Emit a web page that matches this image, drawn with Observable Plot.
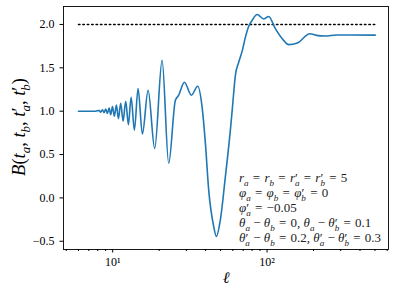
<!DOCTYPE html>
<html>
<head>
<meta charset="utf-8">
<script src="https://cdn.jsdelivr.net/npm/d3@7"></script>
<script src="https://cdn.jsdelivr.net/npm/@observablehq/plot@0.6"></script>
<style>
  html, body { margin: 0; padding: 0; background: #fff; }
  #chart svg { display: block; }
</style>
</head>
<body>
<div id="chart"></div>
<script>
// multipole ℓ (log axis)
const ell = [6.0, 7.73, 8.17, 8.36, 8.58, 8.80, 9.01, 9.24, 9.48, 9.71, 9.96, 10.26, 10.57, 10.89,
  11.27, 11.68, 12.14, 12.64, 13.16, 13.82, 14.60, 15.57, 16.96, 18.71, 20.89, 23.05, 25.47, 26.76,
  29.14, 32.34, 35.53, 37.93, 39.85, 41.86, 45.10, 46.95, 49.83, 53.70, 57.85, 59.61, 62.34, 65.49,
  69.18, 72.34, 75.98, 79.93, 86.13, 95.35, 102.4, 113.2, 128.1, 138.0, 157.1, 189.3, 208.6, 238.6,
  281.1, 346.2, 502.6];
// B(t_a, t_b, t'_a, t'_b)
const Bval = [1.0, 1.0, 1.008, 0.989, 1.017, 0.983, 1.025, 0.974, 1.037, 0.960, 1.054, 0.943, 1.072, 0.914,
  1.092, 0.885, 1.115, 0.845, 1.161, 0.782, 1.261, 0.736, 1.241, 0.571, 1.586, 0.399, 1.126, 1.184,
  1.333, 1.184, 1.287, 1.049, 0.632, 0.092, -0.330, -0.445, -0.253, 0.245, 0.782, 1.034, 1.414, 1.563,
  1.701, 1.851, 1.977, 2.046, 2.115, 2.063, 2.092, 1.951, 1.816, 1.767, 1.785, 1.893, 1.874, 1.866,
  1.879, 1.879, 1.877];
// dotted reference level
const refLevel = 2.0;
const refRange = [6, 500];
// ticks
const yTicks = [-0.5, 0.0, 0.5, 1.0, 1.5, 2.0];
const xMajorTicks = [10, 100];
const xMajorLabels = ["10¹", "10²"];
const xMinorTicks = [5, 6, 7, 8, 9, 20, 30, 40, 50, 60, 70, 80, 90, 200, 300, 400, 500, 600];
// texts
const yLabel = "B(t_a, t_b, t'_a, t'_b)";
const xLabel = "ℓ";
const noteLines = [
  "r_a = r_b = r'_a = r'_b = 5",
  "φ_a = φ_b = φ'_b = 0",
  "φ'_a = -0.05",
  "θ_a - θ_b = 0, θ_a - θ'_b = 0.1",
  "θ'_a - θ_b = 0.2, θ'_a - θ'_b = 0.3"
];

const data = ell.map((x, i) => ({x, y: Bval[i]}));
const refData = refRange.map(x => ({x, y: refLevel}));
const FONT = "'Liberation Serif', 'DejaVu Serif', serif";

const fmtY = d => (d < 0 ? "\u2212" : "") + Math.abs(d).toFixed(1);

const chart = Plot.plot({
  width: 396,
  height: 295,
  marginLeft: 63,
  marginRight: 8,
  marginTop: 6,
  marginBottom: 46,
  style: {fontFamily: FONT, fontSize: "12px", color: "#000", background: "#fff"},
  x: {type: "log", domain: [4.8, 612]},
  y: {domain: [-0.595, 2.207]},
  marks: [
    Plot.axisY({ticks: yTicks, tickSize: 3.5, tickPadding: 5.5, tickFormat: fmtY, label: null}),
    Plot.axisX({ticks: xMinorTicks, tickSize: 2, tickFormat: () => "", label: null}),
    Plot.axisX({ticks: xMajorTicks, tickSize: 3.5, tickPadding: 4.5,
      tickFormat: d => xMajorLabels[xMajorTicks.indexOf(d)], label: null}),
    Plot.line(refData, {x: "x", y: "y", stroke: "#000", strokeWidth: 1.5, strokeDasharray: "1.5,2.9"}),
    Plot.line(data, {x: "x", y: "y", stroke: "#1f77b4", strokeWidth: 1.6, curve: "monotone-x"}),
    Plot.frame({stroke: "#000", strokeWidth: 0.9})
  ]
});
document.getElementById("chart").appendChild(chart);

// math-like text with subscripts and primes
function isLetter(c) { return /[A-Za-zα-ωφθ]/.test(c); }
function mathText(sel, src, size, relPad) {
  sel.style("white-space", "pre");
  let off = 0, pending = 0;
  const add = (t, opts = {}) => {
    const target = opts.sub ? size * 0.28 : 0;
    const ts = sel.append("tspan").text(t);
    if (target !== off) ts.attr("dy", target - off);
    off = target;
    if (opts.it) ts.attr("font-style", "italic");
    if (opts.sub) ts.attr("font-size", size * 0.7);
    const dx = (opts.dx || 0) + pending;
    pending = 0;
    if (dx) ts.attr("dx", dx);
  };
  let i = 0, afterPrime = false;
  while (i < src.length) {
    const c = src[i];
    if (c === "_") {
      const n = src[i + 1];
      add(n, {sub: true, it: isLetter(n), dx: afterPrime ? -size * 0.22 : 0});
      afterPrime = false; i += 2; continue;
    }
    if (c === "'") { add("\u2032"); afterPrime = true; i++; continue; }
    afterPrime = false;
    if (c === "=") { add("=", {dx: relPad}); pending = relPad; }
    else if (c === "-") add("\u2212");
    else if (isLetter(c)) add(c, {it: true});
    else add(c);
    i++;
  }
}

const svg = d3.select(chart);
// y label
const yl = svg.append("text")
  .attr("transform", "translate(25,127) rotate(-90)")
  .attr("text-anchor", "middle")
  .attr("font-family", FONT)
  .attr("font-size", 18.5)
  .attr("fill", "#000");
mathText(yl, yLabel, 18.5, 0);
// x label
svg.append("text")
  .attr("x", 226).attr("y", 283)
  .attr("text-anchor", "middle")
  .attr("font-family", FONT)
  .attr("font-size", 16)
  .attr("font-style", "italic")
  .attr("fill", "#000")
  .text(xLabel);
// annotation
noteLines.forEach((line, k) => {
  const t = svg.append("text")
    .attr("x", 239).attr("y", 182 + 15 * k)
    .attr("text-anchor", "start")
    .attr("font-family", FONT)
    .attr("font-size", 13)
    .attr("fill", "#222");
  mathText(t, line, 13, 1);
});
</script>
</body>
</html>
